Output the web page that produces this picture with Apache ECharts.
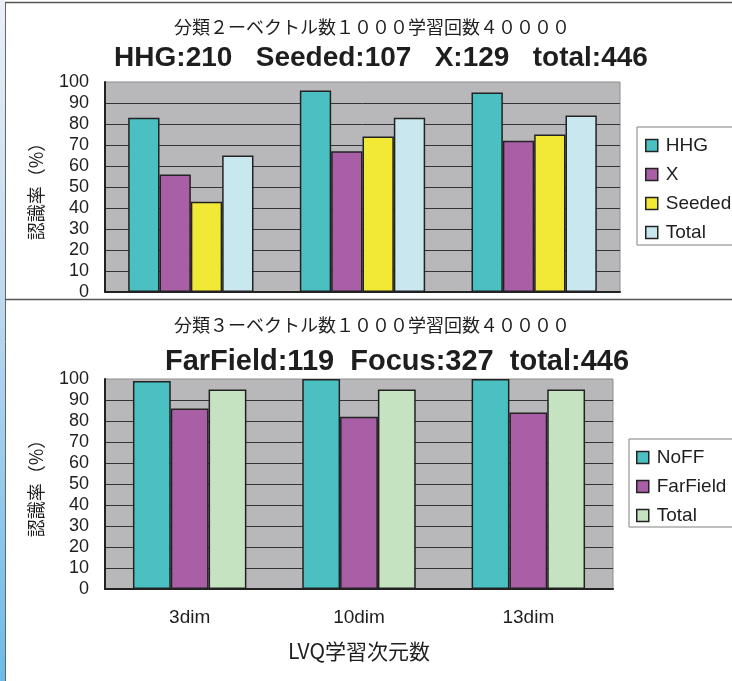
<!DOCTYPE html>
<html>
<head>
<meta charset="utf-8">
<script src="https://cdn.jsdelivr.net/npm/echarts@6/dist/echarts.min.js"></script>
<style>
  html, body { margin: 0; padding: 0; background: #ffffff; }
  #wrap { position: relative; width: 732px; height: 681px; overflow: hidden; }
  .layer { position: absolute; left: 0; top: 0; width: 732px; height: 681px; }
</style>
</head>
<body>
<div id="wrap">
  <div id="upper" class="layer"></div>
  <div id="lower" class="layer"></div>
</div>
<script>
// LVQ input dimensions (shared category axis)
const categories = ['3dim', '10dim', '13dim'];

// 分類2: recognition rate (%) per class
const hhgRate = [83, 96, 95];
const xRate = [56, 67, 72];
const seededRate = [43, 74, 75];
const total2Rate = [65, 83, 84];

// 分類3: recognition rate (%) per class
const noffRate = [99, 100, 100];
const farFieldRate = [86, 82, 84];
const total3Rate = [95, 95, 95];

const upperTitle = '分類２ーベクトル数１０００学習回数４００００';
const upperHeadline = 'HHG:210   Seeded:107   X:129   total:446';
const lowerTitle = '分類３ーベクトル数１０００学習回数４００００';
const lowerHeadline = 'FarField:119  Focus:327  total:446';
const yName = '認識率（%）';
const xName = 'LVQ学習次元数';

const LATIN = "'Liberation Sans', Arial, sans-serif";
const CJK = "'Noto Sans CJK JP', sans-serif";
const INK = '#1e1e1e';

function barSeries(name, data, color, gap) {
  return {
    type: 'bar',
    name: name,
    data: data,
    barGap: '0%',
    barCategoryGap: gap,
    itemStyle: { color: color, borderColor: '#222222', borderWidth: 1.5 },
    emphasis: { disabled: true }
  };
}

function panel(p) {
  return {
    animation: false,
    title: [
      {
        text: p.title, left: 372, top: p.titleTop, padding: 0, textAlign: 'center',
        textStyle: { fontFamily: CJK, fontSize: 18, fontWeight: 'normal', color: INK }
      },
      {
        text: p.headline, left: p.headlineX, top: p.headlineTop, padding: 0, textAlign: 'center',
        textStyle: { fontFamily: LATIN, fontSize: p.headlineSize, fontWeight: 'bold', color: INK }
      }
    ],
    legend: {
      orient: 'vertical',
      left: p.legendLeft, top: p.legendTop,
      padding: p.legendPadding,
      itemGap: 10, itemWidth: 12, itemHeight: 12,
      icon: 'rect',
      backgroundColor: '#ffffff',
      borderColor: '#808080', borderWidth: 1, borderRadius: 0,
      itemStyle: { borderColor: '#222222', borderWidth: 1.5 },
      textStyle: { fontFamily: LATIN, fontSize: 19, color: INK, padding: [0, 0, 0, 3] },
      selectedMode: false,
      data: p.series.map(function (s) { return s.name; })
    },
    grid: {
      left: 105, top: p.gridTop, width: p.gridWidth, height: 210,
      show: true, backgroundColor: '#b8b8ba', borderColor: '#8c8c8c', borderWidth: 1,
      outerBoundsMode: 'none'
    },
    xAxis: {
      type: 'category',
      data: categories,
      axisLine: { lineStyle: { color: '#222222', width: 2 } },
      axisTick: { inside: true, length: 7, lineStyle: { color: '#333333', width: 1.5 } },
      axisLabel: { show: p.showX, margin: 19, fontFamily: LATIN, fontSize: 19, color: INK },
      name: p.showX ? xName : '',
      nameLocation: 'middle',
      nameGap: 52,
      nameTextStyle: { fontFamily: CJK, fontSize: 21, color: INK }
    },
    yAxis: {
      type: 'value',
      min: 0, max: 100, interval: 10,
      axisLine: { show: true, lineStyle: { color: '#222222', width: 2 } },
      axisTick: { show: false },
      splitLine: { show: true, showMaxLine: false, lineStyle: { color: '#333333', width: 1 } },
      axisLabel: { margin: 16, fontFamily: LATIN, fontSize: 18, color: INK },
      name: yName,
      nameLocation: 'middle',
      nameGap: 60,
      nameTextStyle: { fontFamily: CJK, fontSize: 18, color: INK }
    },
    series: p.series
  };
}

const upper = echarts.init(document.getElementById('upper'), null, { renderer: 'canvas' });
const upperOption = panel({
  title: upperTitle, titleTop: 18,
  headline: upperHeadline, headlineX: 381, headlineTop: 44, headlineSize: 28,
  legendLeft: 637, legendTop: 127, legendPadding: [9, 30, 3, 8],
  gridTop: 82, gridWidth: 515, showX: false,
  series: [
    barSeries('HHG', hhgRate, '#4ac0c2', '27%'),
    barSeries('X', xRate, '#a95fa6', '27%'),
    barSeries('Seeded', seededRate, '#f1e935', '27%'),
    barSeries('Total', total2Rate, '#c8e7ef', '27%')
  ]
});
// page frame: blue edge strip, outer border and panel divider
upperOption.graphic = [
  {
    type: 'rect', z: -10, silent: true,
    shape: { x: 0, y: 0, width: 5, height: 681 },
    style: {
      fill: new echarts.graphic.LinearGradient(0, 0, 0, 1, [
        { offset: 0, color: '#eaf0f6' },
        { offset: 0.45, color: '#bcd8ef' },
        { offset: 1, color: '#6cbbe8' }
      ])
    }
  },
  { type: 'line', silent: true, shape: { x1: 5.5, y1: 2, x2: 5.5, y2: 681 }, style: { stroke: '#666666', lineWidth: 1 } },
  { type: 'line', silent: true, shape: { x1: 5, y1: 2.5, x2: 732, y2: 2.5 }, style: { stroke: '#555555', lineWidth: 1.5 } },
  { type: 'line', silent: true, shape: { x1: 5, y1: 299.5, x2: 732, y2: 299.5 }, style: { stroke: '#555555', lineWidth: 1.5 } }
];
upper.setOption(upperOption);

const lower = echarts.init(document.getElementById('lower'), null, { renderer: 'canvas' });
lower.setOption(panel({
  title: lowerTitle, titleTop: 316,
  headline: lowerHeadline, headlineX: 397, headlineTop: 347, headlineSize: 29,
  legendLeft: 629, legendTop: 439, legendPadding: [9, 30, 2, 7],
  gridTop: 379, gridWidth: 508, showX: true,
  series: [
    barSeries('NoFF', noffRate, '#4ac0c2', '33%'),
    barSeries('FarField', farFieldRate, '#a95fa6', '33%'),
    barSeries('Total', total3Rate, '#c5e3c1', '33%')
  ]
}));
</script>
</body>
</html>
